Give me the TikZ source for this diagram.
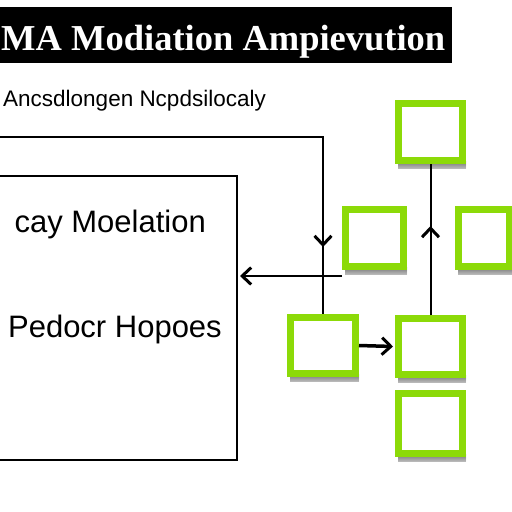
\documentclass[tikz,border=0pt]{standalone}
\usepackage{fontspec}
\setmainfont{Liberation Serif}
\newfontfamily\subfont{Liberation Sans}
\usetikzlibrary{arrows.meta}
\definecolor{lime}{RGB}{140,218,8}
\definecolor{shade}{RGB}{150,140,185}
\tikzset{
  gbox/.style={draw=lime, line width=7pt, fill=white, inner sep=0pt},
  conn/.style={draw=black, line width=2pt},
  tip/.style={-{Straight Barb[length=9pt,width=17pt,line width=3pt]}},
  bigbox/.style={draw=black, line width=2pt, inner sep=0pt},
  lbl/.style={font=\subfont\fontsize{31}{33}\selectfont, anchor=base east, inner sep=0pt},
}
\newcommand{\gb}[5]{% name, cx, cy, w, h
  \fill[shade, opacity=0.6] (#2-#4/2+3,#3+#5/2-3) rectangle (#2+#4/2,#3+#5/2+5);
  \node[gbox, minimum width=#4pt-7pt, minimum height=#5pt-7pt] (#1) at (#2,#3) {};
}
\begin{document}
\begin{tikzpicture}[x=1pt,y=-1pt]
\useasboundingbox (0,0) rectangle (512,512);
\clip (0,0) rectangle (512,512);
\fill[white] (0,0) rectangle (512,512);
% title bar
\fill[black] (0,7) rectangle (452,63);
\node[anchor=base west, inner sep=0pt, text=white, font=\bfseries\fontsize{36.5}{40}\selectfont] (title) at (1,50) {MA Modiation Ampievution};
% subtitle
\node[anchor=base west, inner sep=0pt, font=\subfont\fontsize{22.5}{24}\selectfont] (sub) at (3,106) {Ancsdlongen Ncpdsilocaly};
% big box
\node[bigbox, minimum width=250pt, minimum height=284pt] (big) at (112,318) {};
\node[lbl] (l1) at (206,232) {cay Moelation};
\node[lbl] (l2) at (222,337) {Pedocr Hopoes};
% green boxes
\gb{b1}{430.5}{132}{71}{64}
\gb{b2}{374.5}{238}{65}{64}
\gb{b3}{484}{238}{58}{64}
\gb{b4}{323}{345.5}{72}{63}
\gb{b5}{430.5}{346.5}{71}{63}
\gb{b6}{430.5}{423.5}{71}{67}
% connectors
\coordinate (s) at (0,137);
\coordinate (c) at (323,137);
\coordinate (dm) at (323,247);
\draw[conn] (s) -- (c) -- (dm);
\draw[conn, tip] (c) -- (dm);
\draw[conn] (dm) -- (b4.north);
\coordinate (hs) at (342,276);
\coordinate (hm) at (big.east |- hs);
\draw[conn, tip] (hs) -- ([xshift=2pt]hm);
\coordinate (um) at (430.5,226);
\draw[conn] (b5.north) -- (um) -- (b1.south);
\draw[conn, tip] (b5.north) -- (um);
\draw[conn, tip, line width=3.5pt] (b4.east) -- ([xshift=-2pt]b5.west);
\end{tikzpicture}
\end{document}
